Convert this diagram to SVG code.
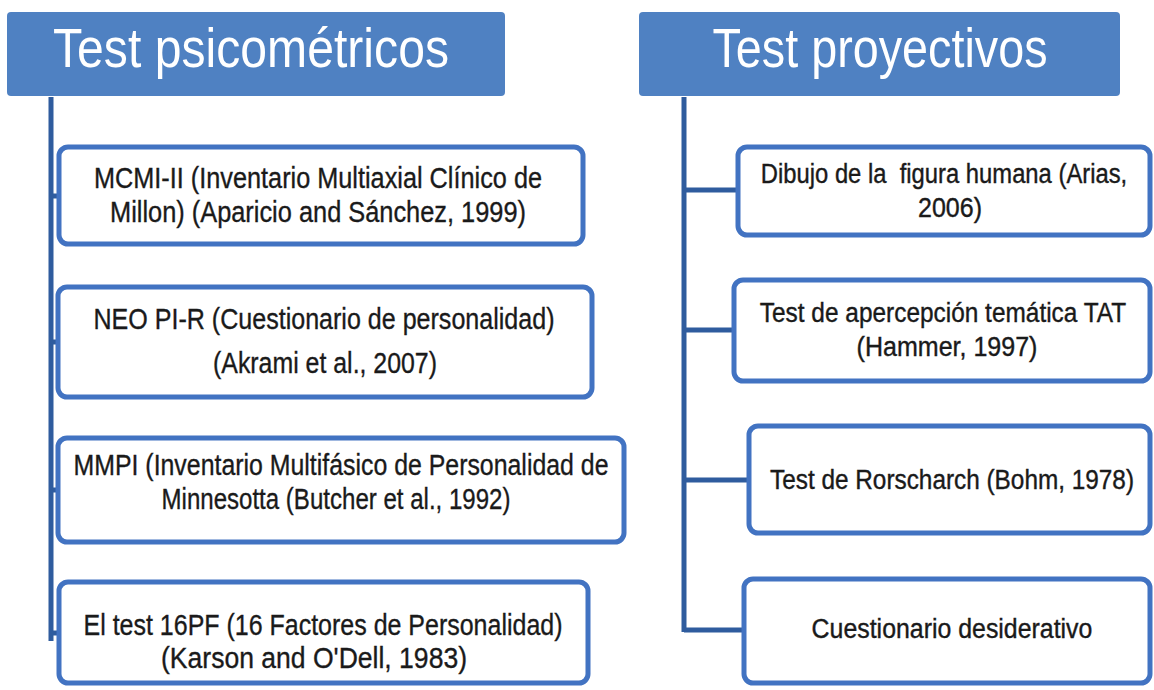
<svg xmlns="http://www.w3.org/2000/svg" width="1154" height="690" viewBox="0 0 1154 690">
<style>
.hdr{fill:#4f81c2;}
.htxt{fill:#ffffff;font-family:"Liberation Sans",Arial,sans-serif;font-size:55px;text-anchor:middle;}
.box{fill:#ffffff;stroke:#4273c2;stroke-width:5;}
.lt{fill:#1a1a1a;stroke:#1a1a1a;stroke-width:0.35;font-family:"Liberation Sans Narrow","Liberation Sans",Arial,sans-serif;font-size:29px;text-anchor:middle;}
.rt{fill:#1a1a1a;stroke:#1a1a1a;stroke-width:0.4;font-family:"Liberation Sans Narrow","Liberation Sans",Arial,sans-serif;font-size:28px;text-anchor:middle;}
.con{stroke:#2f5c9e;stroke-width:5;fill:none;}
</style>
<rect width="1154" height="690" fill="#ffffff"/>
<g id="connectors">
<line class="con" x1="51" y1="97" x2="51" y2="641"/>
<line class="con" x1="51" y1="196" x2="60" y2="196"/>
<line class="con" x1="51" y1="342" x2="60" y2="342"/>
<line class="con" x1="51" y1="490" x2="60" y2="490"/>
<line class="con" x1="51" y1="633" x2="60" y2="633"/>
<line class="con" x1="684" y1="97" x2="684" y2="632"/>
<line class="con" x1="684" y1="190" x2="738" y2="190"/>
<line class="con" x1="684" y1="330" x2="734" y2="330"/>
<line class="con" x1="684" y1="480" x2="749" y2="480"/>
<line class="con" x1="684" y1="630" x2="744" y2="630"/>
</g>
<g id="hdr-psicometricos">
<rect class="hdr" x="7" y="12" width="498" height="84" rx="4"/>
<text class="htxt" x="251" y="67" textLength="396" lengthAdjust="spacingAndGlyphs">Test psicométricos</text>
</g>
<g id="hdr-proyectivos">
<rect class="hdr" x="639" y="12" width="481" height="84" rx="4"/>
<text class="htxt" x="880" y="67" textLength="335" lengthAdjust="spacingAndGlyphs">Test proyectivos</text>
</g>
<g id="mcmi">
<rect class="box" x="59" y="147" width="524" height="97" rx="9"/>
<text class="lt" x="318" y="188" textLength="448" lengthAdjust="spacingAndGlyphs">MCMI-II (Inventario Multiaxial Clínico de</text>
<text class="lt" x="318" y="222" textLength="416" lengthAdjust="spacingAndGlyphs">Millon) (Aparicio and Sánchez, 1999)</text>
</g>
<g id="neo">
<rect class="box" x="58" y="287" width="534" height="110" rx="9"/>
<text class="lt" x="324" y="329" textLength="461" lengthAdjust="spacingAndGlyphs">NEO PI-R (Cuestionario de personalidad)</text>
<text class="lt" x="325" y="373" textLength="224" lengthAdjust="spacingAndGlyphs">(Akrami et al., 2007)</text>
</g>
<g id="mmpi">
<rect class="box" x="58" y="438" width="566" height="104" rx="9"/>
<text class="lt" x="341" y="475" textLength="535" lengthAdjust="spacingAndGlyphs">MMPI (Inventario Multifásico de Personalidad de</text>
<text class="lt" x="336" y="509" textLength="349" lengthAdjust="spacingAndGlyphs">Minnesotta (Butcher et al., 1992)</text>
</g>
<g id="pf16">
<rect class="box" x="59" y="582" width="529" height="101" rx="9"/>
<text class="lt" x="323" y="635" textLength="479" lengthAdjust="spacingAndGlyphs">El test 16PF (16 Factores de Personalidad)</text>
<text class="lt" x="314" y="668" textLength="306" lengthAdjust="spacingAndGlyphs">(Karson and O'Dell, 1983)</text>
</g>
<g id="dibujo">
<rect class="box" x="738" y="147" width="412" height="88" rx="9"/>
<g transform="translate(944,0) scale(0.8,1)"><text class="rt" x="0" y="183" textLength="458" lengthAdjust="spacingAndGlyphs">Dibujo de la&#160; figura humana (Arias,</text></g>
<g transform="translate(950,0) scale(0.8,1)"><text class="rt" x="0" y="217" textLength="80" lengthAdjust="spacingAndGlyphs">2006)</text></g>
</g>
<g id="tat">
<rect class="box" x="734" y="280" width="416" height="101" rx="9"/>
<g transform="translate(943,0) scale(0.8,1)"><text class="rt" x="0" y="322" textLength="458" lengthAdjust="spacingAndGlyphs">Test de apercepción temática TAT</text></g>
<g transform="translate(947,0) scale(0.8,1)"><text class="rt" x="0" y="356" textLength="226" lengthAdjust="spacingAndGlyphs">(Hammer, 1997)</text></g>
</g>
<g id="rorschach">
<rect class="box" x="749" y="426" width="401" height="107" rx="9"/>
<g transform="translate(952,0) scale(0.8,1)"><text class="rt" x="0" y="489" textLength="455" lengthAdjust="spacingAndGlyphs">Test de Rorscharch (Bohm, 1978)</text></g>
</g>
<g id="desiderativo">
<rect class="box" x="744" y="579" width="406" height="104" rx="9"/>
<g transform="translate(952,0) scale(0.8,1)"><text class="rt" x="0" y="638" textLength="351" lengthAdjust="spacingAndGlyphs">Cuestionario desiderativo</text></g>
</g>
</svg>
